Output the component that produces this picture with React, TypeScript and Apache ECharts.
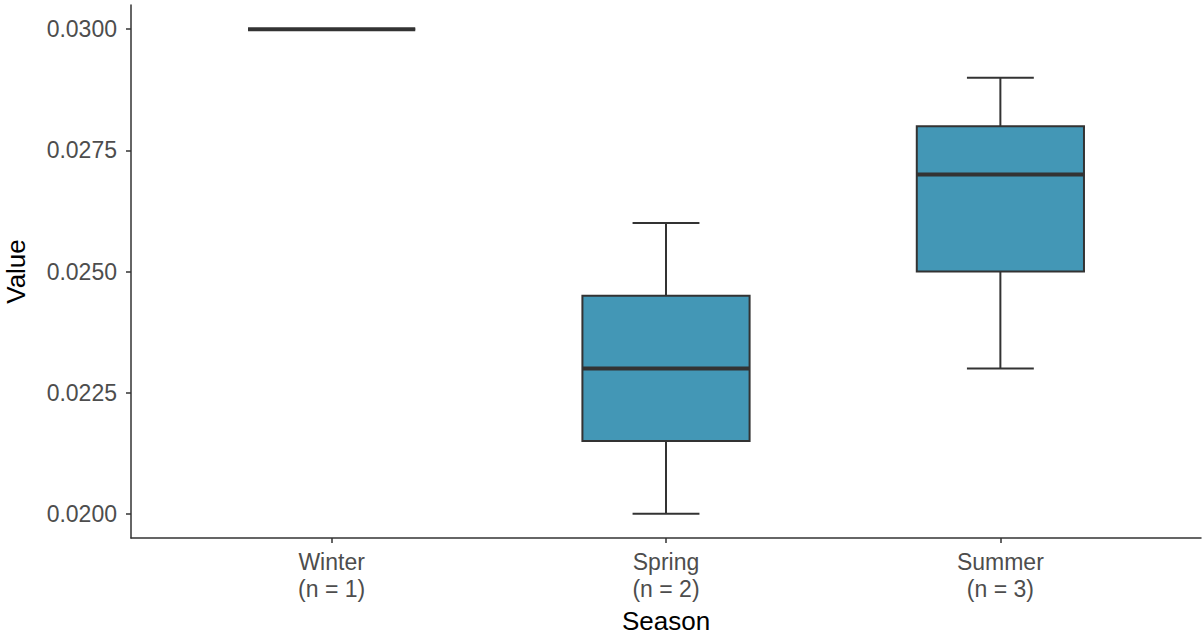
import React, { useEffect, useRef } from "react";
import * as echarts from "echarts";

const seasons = ["Winter", "Spring", "Summer"];
const counts = [1, 2, 3];
const whiskerLow = [0.03, 0.02, 0.023];
const q1 = [0.03, 0.0215, 0.025];
const median = [0.03, 0.023, 0.027];
const q3 = [0.03, 0.0245, 0.028];
const whiskerHigh = [0.03, 0.026, 0.029];
const yTicks = [0.02, 0.0225, 0.025, 0.0275, 0.03];
const xPositions = [1, 2, 3];

const FONT = "Liberation Sans, Arial, Helvetica, sans-serif";
const DARK = "#333333";
const FILL = "#4397B6";

export default function App() {
  const ref = useRef<HTMLDivElement>(null);

  useEffect(() => {
    if (!ref.current) return;
    const chart = echarts.init(ref.current, null, { renderer: "svg" });

    const data = seasons.map((s, i) => [
      xPositions[i],
      whiskerLow[i],
      q1[i],
      median[i],
      q3[i],
      whiskerHigh[i],
    ]);

    const renderItem = (params: any, api: any) => {
      const x = api.value(0);
      const lo = api.value(1);
      const a = api.value(2);
      const m = api.value(3);
      const b = api.value(4);
      const hi = api.value(5);
      const boxW = api.size([0.5, 0])[0];
      const capW = api.size([0.2, 0])[0];
      const pLo = api.coord([x, lo]);
      const pA = api.coord([x, a]);
      const pM = api.coord([x, m]);
      const pB = api.coord([x, b]);
      const pHi = api.coord([x, hi]);
      const cx = pM[0];
      const lineStyle = { stroke: DARK, lineWidth: 2, fill: null };
      return {
        type: "group",
        children: [
          { type: "line", shape: { x1: cx, y1: pLo[1], x2: cx, y2: pA[1] }, style: lineStyle },
          { type: "line", shape: { x1: cx, y1: pB[1], x2: cx, y2: pHi[1] }, style: lineStyle },
          { type: "line", shape: { x1: cx - capW / 2, y1: pLo[1], x2: cx + capW / 2, y2: pLo[1] }, style: lineStyle },
          { type: "line", shape: { x1: cx - capW / 2, y1: pHi[1], x2: cx + capW / 2, y2: pHi[1] }, style: lineStyle },
          {
            type: "rect",
            shape: { x: cx - boxW / 2, y: pB[1], width: boxW, height: pA[1] - pB[1] },
            style: { fill: FILL, stroke: DARK, lineWidth: 2 },
          },
          {
            type: "line",
            shape: { x1: cx - boxW / 2, y1: pM[1], x2: cx + boxW / 2, y2: pM[1] },
            style: { stroke: DARK, lineWidth: 4 },
          },
        ],
      };
    };

    chart.setOption({
      animation: false,
      grid: {
        left: 131,
        right: 2,
        top: 5,
        bottom: 98,
        containLabel: false,
        outerBoundsMode: "none",
      },
      xAxis: {
        type: "value",
        min: 0.4,
        max: 3.6,
        name: "Season",
        nameLocation: "middle",
        nameGap: 70,
        nameTextStyle: { fontFamily: FONT, fontSize: 26, color: "#000000" },
        splitLine: { show: false },
        axisLine: { show: true, lineStyle: { color: DARK, width: 1.5 } },
        axisTick: { show: true, length: 5, customValues: xPositions, lineStyle: { color: DARK, width: 1.5 } },
        axisLabel: {
          customValues: xPositions,
          margin: 10,
          fontFamily: FONT,
          fontSize: 23,
          lineHeight: 27,
          color: "#4D4D4D",
          formatter: (v: number) => {
            const i = Math.round(v) - 1;
            return seasons[i] + "\n(n = " + counts[i] + ")";
          },
        },
      },
      yAxis: {
        type: "value",
        min: 0.0195,
        max: 0.0305,
        name: "Value",
        nameLocation: "middle",
        nameGap: 102,
        nameTextStyle: { fontFamily: FONT, fontSize: 26, color: "#000000" },
        splitLine: { show: false },
        axisLine: { show: true, lineStyle: { color: DARK, width: 1.5 } },
        axisTick: { show: true, length: 5, customValues: yTicks, lineStyle: { color: DARK, width: 1.5 } },
        axisLabel: {
          customValues: yTicks,
          margin: 14,
          fontFamily: FONT,
          fontSize: 23,
          color: "#4D4D4D",
          formatter: (v: number) => v.toFixed(4),
        },
      },
      series: [
        {
          type: "custom",
          renderItem,
          encode: { x: 0, y: [1, 2, 3, 4, 5] },
          data,
          clip: false,
        },
      ],
    });

    return () => chart.dispose();
  }, []);

  return (
    <div
      ref={ref}
      style={{ position: "fixed", left: 0, top: 0, width: 1203, height: 636, background: "#ffffff" }}
    />
  );
}
